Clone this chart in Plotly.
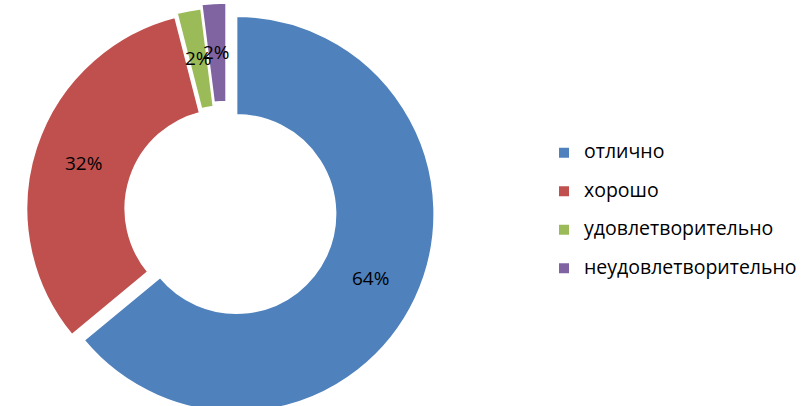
import math
import plotly.graph_objects as go

# ---- data ----
categories = ["отлично", "хорошо", "удовлетворительно", "неудовлетворительно"]
values = [64, 32, 2, 2]
pct_labels = ["64%", "32%", "2%", "2%"]
pulls = [0.053, 0.013, 0.024, 0.045]
colors = ["#4F81BD", "#C0504D", "#9BBB59", "#8064A2"]

# ---- layout geometry ----
W, H_VIEW = 802, 406
H = 440            # figure is a bit taller than the window; the bottom is clipped
hole = 0.5
R_target = 199
max_pull = max(pulls)
box = 2 * R_target * (1 + max_pull)
cx_px = 228
cy_px = box / 2    # pie centre, pixels from top
dom_x = [(cx_px - box / 2) / W, (cx_px + box / 2) / W]
dom_y = [1 - box / H, 1]
R_px = box / (2 * (1 + max_pull))  # plotly pie radius

# label positions derived from the slice values (bisector angle, mid-ring)
total = sum(values)
annotations = []
cum = 0
for v, p, t in zip(values, pulls, pct_labels):
    theta = 2 * math.pi * (cum + v / 2) / total
    cum += v
    rr = ((1 + hole) / 2 + p) * R_px
    x_px = cx_px + rr * math.sin(theta)
    y_px = cy_px - rr * math.cos(theta)
    annotations.append(dict(
        x=x_px / W, y=1 - y_px / H, xref="paper", yref="paper",
        text=t, showarrow=False, xanchor="center", yanchor="middle",
        font=dict(family="Open Sans", size=19, color="#000000"),
    ))

legend_labels = [
    f'<span style="font-size:19.5px;baseline-shift:5px">{c}</span>' for c in categories
]

fig = go.Figure()
fig.add_trace(go.Pie(
    labels=legend_labels,
    values=values,
    hole=hole,
    pull=pulls,
    sort=False,
    direction="clockwise",
    rotation=0,
    textinfo="none",
    hoverinfo="none",
    marker=dict(colors=colors, line=dict(color="white", width=2)),
    domain=dict(x=dom_x, y=dom_y),
))

fig.update_layout(
    width=W,
    height=H,
    margin=dict(l=0, r=0, t=0, b=0),
    paper_bgcolor="white",
    plot_bgcolor="white",
    annotations=annotations,
    showlegend=True,
    legend=dict(
        x=547 / W, xanchor="left",
        y=1 - 210.5 / H, yanchor="middle",
        font=dict(family="Open Sans", size=27.3, color="#000000"),
        bgcolor="rgba(0,0,0,0)",
    ),
)

fig.write_html(
    "out.html",
    config={"displayModeBar": False},
    post_script="document.body.style.margin='0';document.body.style.overflow='hidden';",
)
